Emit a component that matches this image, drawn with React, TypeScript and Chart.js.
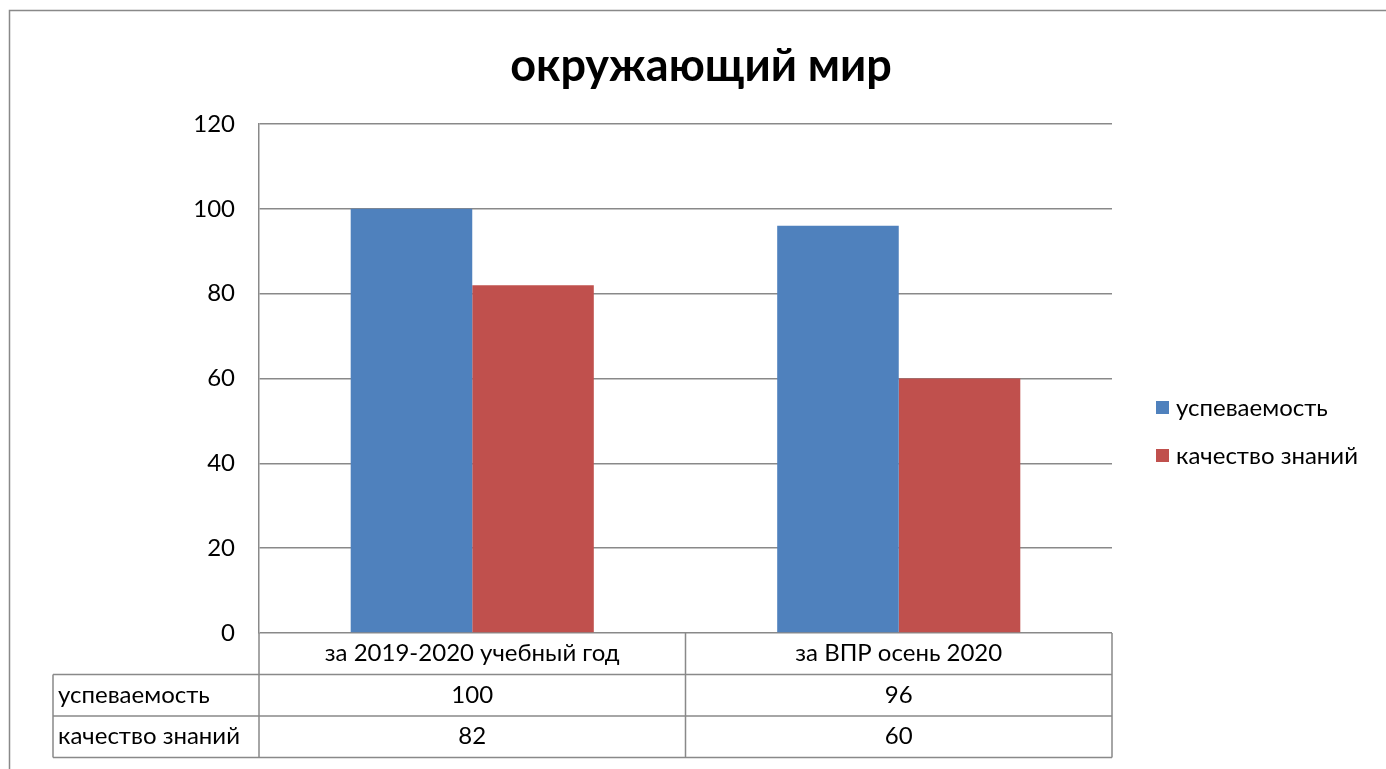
import React, { useEffect, useRef } from "react";
import { Chart, registerables } from "chart.js";

Chart.register(...registerables);

const chartTitle = "окружающий мир";
const categories = ["за 2019-2020 учебный год", "за ВПР осень 2020"];
const seriesNames = ["успеваемость", "качество знаний"];
const uspevaemost = [100, 96];
const kachestvo = [82, 60];
const seriesColors = ["#4F81BD", "#C0504D"];
const yMin = 0;
const yMax = 120;
const yStep = 20;

const FONT = "Lato, 'Open Sans', sans-serif";
const LINE = "#898989";
const TXT = 24;

const W = 1386;
const H = 769;

const decorPlugin = {
  id: "decor",
  afterDraw(chart: any) {
    const ctx: CanvasRenderingContext2D = chart.ctx;
    const area = chart.chartArea;
    const xs = chart.scales.x;
    const values = [uspevaemost, kachestvo];
    ctx.save();

    // outer border
    ctx.strokeStyle = LINE;
    ctx.lineWidth = 1.5;
    ctx.beginPath();
    ctx.moveTo(9.5, H + 5);
    ctx.lineTo(9.5, 10.5);
    ctx.lineTo(W + 5, 10.5);
    ctx.stroke();

    // title
    ctx.fillStyle = "#000";
    ctx.font = `bold 45px ${FONT}`;
    ctx.textAlign = "center";
    ctx.textBaseline = "middle";
    ctx.fillText(chartTitle, 701, 66);

    // data table
    const rowH = 41.5;
    const tableLeft = 53;
    const top = area.bottom;
    const n = categories.length;
    const catW = area.width / n;
    ctx.strokeStyle = LINE;
    ctx.lineWidth = 1.5;
    ctx.beginPath();
    ctx.moveTo(area.left, top);
    ctx.lineTo(area.left, top + rowH * 3);
    ctx.moveTo(area.right, top);
    ctx.lineTo(area.right, top + rowH * 3);
    for (let i = 1; i < n; i++) {
      const xx = area.left + catW * i;
      ctx.moveTo(xx, top);
      ctx.lineTo(xx, top + rowH * 3);
    }
    for (let r = 1; r <= 3; r++) {
      ctx.moveTo(tableLeft, top + rowH * r);
      ctx.lineTo(area.right, top + rowH * r);
    }
    ctx.moveTo(tableLeft, top + rowH);
    ctx.lineTo(tableLeft, top + rowH * 3);
    ctx.stroke();

    ctx.fillStyle = "#000";
    ctx.font = `${TXT}px ${FONT}`;
    ctx.textBaseline = "middle";
    ctx.textAlign = "center";
    categories.forEach((c, i) => {
      const cx = xs.getPixelForValue(i);
      ctx.fillText(c, cx, top + rowH / 2);
      values.forEach((arr, s) => {
        ctx.fillText(String(arr[i]), cx, top + rowH * (s + 1) + rowH / 2);
      });
    });
    ctx.textAlign = "left";
    seriesNames.forEach((name, s) => {
      ctx.fillText(name, tableLeft + 5, top + rowH * (s + 1) + rowH / 2);
    });

    // legend
    const legX = 1156;
    const legY = [408, 456];
    seriesNames.forEach((name, s) => {
      ctx.fillStyle = seriesColors[s];
      ctx.fillRect(legX, legY[s] - 7, 13, 13);
      ctx.fillStyle = "#000";
      ctx.textAlign = "left";
      ctx.fillText(name, legX + 20, legY[s]);
    });

    ctx.restore();
  },
};

export default function App() {
  const ref = useRef<HTMLCanvasElement | null>(null);

  useEffect(() => {
    if (!ref.current) return;
    const chart = new Chart(ref.current, {
      type: "bar",
      data: {
        labels: categories,
        datasets: [
          {
            label: seriesNames[0],
            data: uspevaemost,
            backgroundColor: seriesColors[0],
            categoryPercentage: 0.57,
            barPercentage: 1,
          },
          {
            label: seriesNames[1],
            data: kachestvo,
            backgroundColor: seriesColors[1],
            categoryPercentage: 0.57,
            barPercentage: 1,
          },
        ],
      },
      options: {
        responsive: false,
        animation: false,
        devicePixelRatio: 1,
        layout: {
          padding: { left: 0, top: 124, right: W - 1112, bottom: H - 633 },
        },
        plugins: {
          legend: { display: false },
          title: { display: false },
          tooltip: { enabled: false },
        },
        scales: {
          x: {
            grid: { display: false, drawTicks: false },
            ticks: { display: false },
            border: { display: false },
            afterFit: (s: any) => {
              s.height = 0;
            },
          },
          y: {
            min: yMin,
            max: yMax,
            ticks: {
              stepSize: yStep,
              color: "#000",
              font: { size: TXT, family: FONT },
              padding: 24,
            },
            grid: { color: LINE, lineWidth: 1.5, drawTicks: false },
            border: { display: true, color: LINE, width: 1.5 },
            afterFit: (s: any) => {
              s.width = 259;
            },
          },
        },
      },
      plugins: [decorPlugin],
    });
    return () => chart.destroy();
  }, []);

  return (
    <div style={{ position: "absolute", left: 0, top: 0, width: W, height: H, background: "#fff" }}>
      <canvas ref={ref} width={W} height={H} style={{ width: W, height: H, display: "block" }} />
    </div>
  );
}
